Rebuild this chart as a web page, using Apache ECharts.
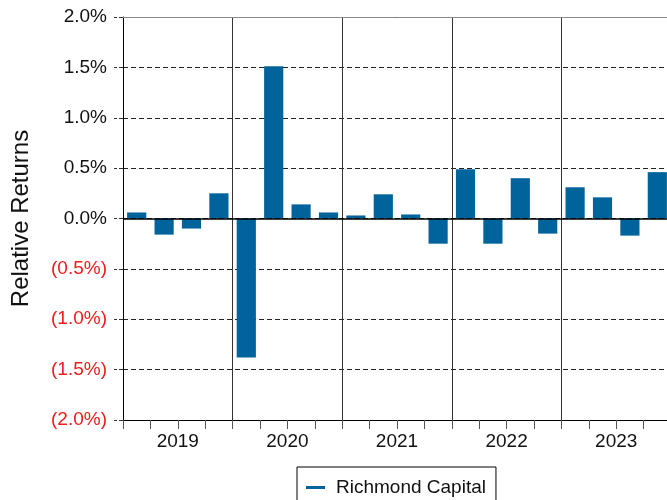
<!DOCTYPE html>
<html>
<head>
<meta charset="utf-8">
<script src="https://cdn.jsdelivr.net/npm/echarts@6/dist/echarts.min.js"></script>
<style>
html, body { margin: 0; padding: 0; background: #fff; }
#chart { width: 667px; height: 500px; }
</style>
</head>
<body>
<div id="chart"></div>
<script>
// quarterly relative returns, in percent
var quarters = ['2019Q1', '2019Q2', '2019Q3', '2019Q4',
	'2020Q1', '2020Q2', '2020Q3', '2020Q4',
	'2021Q1', '2021Q2', '2021Q3', '2021Q4',
	'2022Q1', '2022Q2', '2022Q3', '2022Q4',
	'2023Q1', '2023Q2', '2023Q3', '2023Q4'];
var years = ['2019', '2020', '2021', '2022', '2023'];
var returns = [0.06, -0.16, -0.10, 0.25,
	-1.38, 1.51, 0.14, 0.06,
	0.03, 0.24, 0.04, -0.25,
	0.49, -0.25, 0.40, -0.15,
	0.31, 0.21, -0.17, 0.46];
var seriesName = 'Richmond Capital';

var font = 'Liberation Sans, Arial, sans-serif';
var chart = echarts.init(document.getElementById('chart'));
var option = {
	animation: false,
	grid: {
		left: 123,
		top: 17,
		width: 548,
		height: 403,
		outerBoundsMode: 'none'
	},
	legend: {
		left: 297,
		top: 467,
		padding: [11, 10, 14, 9],
		borderColor: '#000',
		borderWidth: 1,
		borderRadius: 0,
		icon: 'rect',
		itemWidth: 19,
		itemHeight: 3,
		textStyle: {
			fontFamily: font,
			fontSize: 19,
			color: '#111',
			padding: [0, 0, 0, 6]
		},
		data: [seriesName]
	},
	xAxis: [{
		type: 'category',
		data: quarters,
		position: 'bottom',
		axisLine: { onZero: false, lineStyle: { color: '#000', width: 1 } },
		axisTick: { show: true, interval: 0, length: 9, lineStyle: { color: '#555' } },
		axisLabel: { show: false },
		splitLine: {
			show: true,
			interval: 3,
			lineStyle: { color: '#333', width: 1, type: 'solid' }
		}
	}, {
		type: 'category',
		data: years,
		position: 'bottom',
		axisLine: { show: false },
		axisTick: { show: false },
		axisLabel: {
			fontFamily: font,
			fontSize: 19,
			color: '#111',
			margin: 12
		},
		splitLine: { show: false }
	}, {
		type: 'category',
		data: years,
		position: 'top',
		axisLine: { show: true, lineStyle: { color: '#888', width: 1 } },
		axisTick: { show: false },
		axisLabel: { show: false },
		splitLine: { show: false }
	}],
	yAxis: {
		type: 'value',
		min: -2,
		max: 2,
		interval: 0.5,
		name: 'Relative Returns',
		nameLocation: 'middle',
		nameGap: 90,
		nameTextStyle: {
			fontFamily: font,
			fontSize: 24,
			color: '#111'
		},
		axisLine: { show: true, lineStyle: { color: '#000', width: 1 } },
		axisTick: { show: true, length: 9, lineStyle: { color: '#333', type: 'dashed' } },
		axisLabel: {
			margin: 16,
			fontFamily: font,
			fontSize: 19,
			color: '#111',
			formatter: function (v) {
				var s = Math.abs(v).toFixed(1) + '%';
				if (v < -1e-9) {
					return '{neg|(' + s + ')}';
				}
				return s;
			},
			rich: {
				neg: { color: '#f01c1c', fontFamily: font, fontSize: 19 }
			}
		},
		splitLine: {
			show: true,
			lineStyle: { color: '#222', width: 1, type: [5, 3] }
		}
	},
	series: [{
		name: seriesName,
		type: 'bar',
		data: returns,
		barCategoryGap: '30%',
		itemStyle: { color: '#00639c' },
		markLine: {
			silent: true,
			symbol: 'none',
			label: { show: false },
			lineStyle: { color: '#000', width: 1.5, type: 'solid' },
			data: [{ yAxis: 0 }]
		}
	}]
};
chart.setOption(option);
</script>
</body>
</html>
